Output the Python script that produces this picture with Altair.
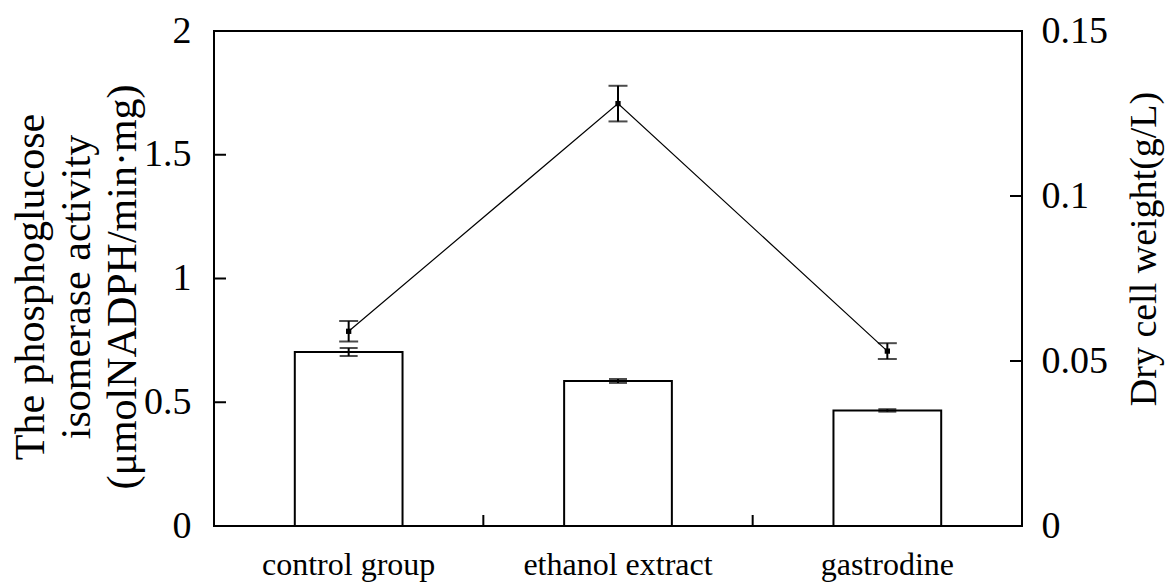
import altair as alt
import pandas as pd

categories = ["control group", "ethanol extract", "gastrodine"]
activity = [0.703, 0.586, 0.467]
activity_err = [0.016, 0.008, 0.005]
dry_weight = [0.0590, 0.1280, 0.0530]
dry_weight_err = [0.0031, 0.0054, 0.0024]
left_ticks = [0, 0.5, 1, 1.5, 2]
right_ticks = [0, 0.05, 0.1, 0.15]

left_title = ["The phosphoglucose", "isomerase activity", "(μmolNADPH/min·mg)"]
right_title = "Dry cell weight(g/L)"

df = pd.DataFrame({
    "cat": categories,
    "act": activity,
    "act_lo": [a - e for a, e in zip(activity, activity_err)],
    "act_hi": [a + e for a, e in zip(activity, activity_err)],
    "dw": dry_weight,
    "dw_lo": [a - e for a, e in zip(dry_weight, dry_weight_err)],
    "dw_hi": [a + e for a, e in zip(dry_weight, dry_weight_err)],
})
lt = pd.DataFrame({"act": left_ticks})
rt = pd.DataFrame({"dw": right_ticks})

FONT = "Liberation Serif"
W, H = 808, 495

xscale = alt.Scale(domain=categories, paddingInner=0, paddingOuter=0)
yl = alt.Scale(domain=[0, 2], nice=False, zero=True)
yr = alt.Scale(domain=[0, 0.15], nice=False, zero=True)

x_axis = alt.Axis(title=None, labelAngle=0, ticks=False, tickSize=0, domain=False,
                  labelFont=FONT, labelFontSize=32, labelColor="black", labelLimit=0,
                  labelBaseline="alphabetic", labelPadding=48)
yl_axis = alt.Axis(values=left_ticks, format=".1~f", ticks=False, tickSize=0, domain=False,
                   grid=False, labelFont=FONT, labelFontSize=38, labelColor="black",
                   labelPadding=23, title=left_title, titleFont=FONT, titleFontSize=42,
                   titleFontWeight="normal", titleColor="black", titleLineHeight=46,
                   titleAngle=270, titleBaseline="alphabetic", titleX=-171, titleY=H / 2 + 8,
                   titleAlign="center")
yr_axis = alt.Axis(values=right_ticks, format=".2~f", ticks=False, tickSize=0, domain=False,
                   grid=False, orient="right", labelFont=FONT, labelFontSize=38,
                   labelColor="black", labelPadding=19, title=right_title, titleFont=FONT,
                   titleFontSize=38, titleFontWeight="normal", titleColor="black",
                   titleAngle=270, titleBaseline="alphabetic", titleX=133, titleY=H / 2 - 30,
                   titleAlign="center")

xe = alt.X("cat:N", scale=xscale, sort=categories, axis=x_axis)

base = alt.Chart(df)

bars = base.mark_bar(width={"band": 0.4}, fill="white", stroke="black", strokeWidth=2).encode(
    x=xe, y=alt.Y("act:Q", scale=yl, axis=yl_axis))
bar_err = base.mark_rule(color="black", strokeWidth=2).encode(
    x=xe, y=alt.Y("act_lo:Q", scale=yl, axis=yl_axis), y2="act_hi:Q")
bar_cap_lo = base.mark_tick(color="black", thickness=2, size=18).encode(
    x=xe, y=alt.Y("act_lo:Q", scale=yl, axis=yl_axis))
bar_cap_hi = base.mark_tick(color="black", thickness=2, size=18).encode(
    x=xe, y=alt.Y("act_hi:Q", scale=yl, axis=yl_axis))
left_tick_marks = alt.Chart(lt).mark_rule(color="black", strokeWidth=2).encode(
    y=alt.Y("act:Q", scale=yl, axis=yl_axis), x=alt.value(0), x2=alt.value(12))
x_tick_marks = base.mark_rule(color="black", strokeWidth=2).encode(
    x=alt.X("cat:N", scale=xscale, sort=categories, axis=x_axis, bandPosition=0),
    y=alt.value(H), y2=alt.value(H - 11))

left_group = alt.layer(bars, bar_err, bar_cap_lo, bar_cap_hi, left_tick_marks, x_tick_marks)

line = base.mark_line(color="black", strokeWidth=1.2).encode(
    x=xe, y=alt.Y("dw:Q", scale=yr, axis=yr_axis))
pts = base.mark_square(color="black", size=28, opacity=1).encode(
    x=xe, y=alt.Y("dw:Q", scale=yr, axis=yr_axis))
line_err = base.mark_rule(color="black", strokeWidth=2).encode(
    x=xe, y=alt.Y("dw_lo:Q", scale=yr, axis=yr_axis), y2="dw_hi:Q")
line_cap_lo = base.mark_tick(color="black", thickness=2, size=19).encode(
    x=xe, y=alt.Y("dw_lo:Q", scale=yr, axis=yr_axis))
line_cap_hi = base.mark_tick(color="black", thickness=2, size=19).encode(
    x=xe, y=alt.Y("dw_hi:Q", scale=yr, axis=yr_axis))
right_tick_marks = alt.Chart(rt).mark_rule(color="black", strokeWidth=2).encode(
    y=alt.Y("dw:Q", scale=yr, axis=yr_axis), x=alt.value(W), x2=alt.value(W - 12))

right_group = alt.layer(line, pts, line_err, line_cap_lo, line_cap_hi, right_tick_marks)

chart = alt.layer(left_group, right_group).resolve_scale(y="independent").properties(
    width=W, height=H,
    autosize=alt.AutoSizeParams(type="none"),
    padding={"left": 206, "top": 23, "right": 144, "bottom": 56},
    background="white",
).configure_view(stroke="black", strokeWidth=2)

chart.save("out.html", embed_options={"renderer": "svg", "actions": False})
